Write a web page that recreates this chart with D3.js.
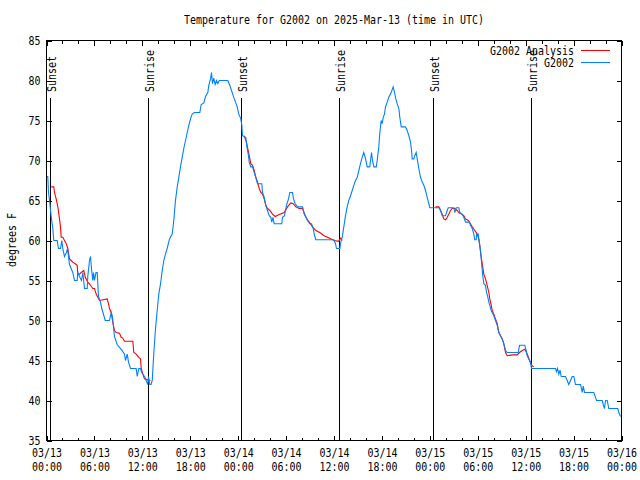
<!DOCTYPE html>
<html><head><meta charset="utf-8">
<script src="https://cdn.jsdelivr.net/npm/d3@7"></script>
<style>body{margin:0;background:#fff}svg{display:block}</style>
</head><body>
<script>
// ---- data (hours since 2025-03-13 00:00 UTC, temperature in F) ----
const blueHours = [0.06,0.16,0.25,0.38,0.59,0.79,0.91,1.34,1.50,1.75,
1.92,2.04,2.25,2.50,2.63,2.75,2.88,3.29,3.51,3.84,
3.92,4.13,4.38,4.55,4.76,5.10,5.17,5.38,5.51,5.63,
5.80,5.89,6.01,6.20,6.35,6.51,6.76,6.92,7.07,7.35,
7.89,8.10,8.26,8.43,8.51,8.85,9.43,9.77,9.89,10.11,
10.27,10.52,11.23,11.36,11.56,11.77,11.93,12.27,12.48,12.68,
12.77,12.94,13.09,13.24,13.44,13.65,13.86,14.06,14.28,14.49,
14.69,14.90,15.11,15.40,15.74,15.94,16.15,16.37,16.57,16.78,
16.99,17.19,17.41,17.62,17.82,18.03,18.24,18.53,19.20,19.37,
19.70,19.91,20.20,20.32,20.54,20.66,20.79,20.95,21.12,21.29,
21.45,21.63,22.70,22.95,23.25,23.45,23.70,23.88,24.08,24.33,
24.46,24.54,24.96,25.04,25.17,25.29,25.38,25.58,25.80,26.01,
26.21,26.42,26.96,27.05,27.26,27.46,27.67,27.89,28.09,28.21,
28.36,28.51,29.46,29.55,29.80,30.05,30.30,30.47,30.80,30.93,
31.14,31.43,32.06,32.27,32.47,32.68,32.97,33.18,33.40,33.52,
33.72,35.98,36.19,36.31,36.73,36.85,37.03,37.23,37.44,37.65,
37.85,38.07,38.28,38.48,38.69,38.91,39.11,39.32,39.53,39.73,
39.95,40.16,40.48,40.57,40.70,40.82,40.99,41.29,41.41,41.61,
41.74,41.91,42.04,42.16,42.32,42.45,42.66,42.86,43.16,43.41,
43.58,43.74,43.91,44.12,44.24,44.42,44.95,45.17,45.37,45.58,
45.71,45.79,45.99,46.12,46.29,46.42,46.62,46.83,47.05,47.25,
47.46,47.67,47.87,48.00,49.21,49.34,49.55,49.96,50.18,50.30,
51.00,51.13,51.30,51.63,51.75,52.05,52.25,52.47,52.97,53.09,
53.31,53.51,53.63,53.81,53.85,54.06,54.13,54.35,54.47,54.63,
54.76,54.97,55.10,55.22,55.39,55.51,55.69,55.81,56.01,56.22,
56.44,56.64,56.85,57.06,57.26,57.48,57.69,59.07,59.23,59.89,
60.07,60.19,60.39,60.61,60.73,63.74,63.86,63.99,64.15,64.30,
64.45,64.99,65.20,65.40,65.62,65.83,66.03,66.24,66.87,66.99,
67.08,67.21,67.37,68.53,68.75,68.87,69.59,69.71,69.87,70.00,
70.21,70.41,71.54,71.66,71.88];
const blueTemps = [68,68,66,65,63,61.5,60,60,59,59,
60,59,58,58.5,59,58,57,56,55,55,
56,55.5,55,56,54,54,55.5,57.5,58,56.5,
55,56,55,56,56,53,52.3,51.5,51,50,
50,51,50.5,48.8,48,47,46.3,45.8,45,45.8,
44.8,44,44,43,44,44,43.5,43,42.5,42,
43,42,42,42.5,46,49,51.25,53.3,54.6,56.25,
57.5,58.3,59,60.2,60.8,62.5,65,66.7,67.9,69.2,
70.4,71.5,72.5,73.5,74.4,75.2,75.8,76,76,77,
77.2,78,78.5,79.4,80.2,81,79.6,80.3,79.5,80,
79.6,80,80,79.4,78.5,77.9,77.2,76.7,75.8,75.2,
74.4,73.1,72.9,72.1,71.25,70.6,69.8,69.2,69.2,68.5,
67.9,67.1,67.1,66,65.4,64.4,63.75,63.1,62.9,62.3,
62.9,62.1,62.1,62.9,63.1,64.4,65.2,66,66,65.2,
64.6,64.2,64.2,63.3,62.9,62.5,62.1,62.1,61.5,60.8,
60.1,60.1,59.6,59,59,59.8,60.4,61.7,63.1,64.2,
65,65.6,66.25,66.9,67.5,67.9,68.75,69.6,70.4,71,
70.2,69.2,69.2,70,71,70,69.2,69.2,70,71.7,
73.5,75,74.6,75.4,75.8,76.7,77.3,77.9,78.5,79.2,
78.5,77.7,77.1,76.5,75.4,74.2,74.2,73.75,73.1,72.3,
71.25,70.2,70.2,70.6,71,70.2,69,67.9,67.3,66.9,
66.25,65.4,64.6,64.1,64.1,63.75,63.1,63.1,63.75,64.1,
64.1,63.5,64.1,64.1,63.5,63.3,62.9,62.3,62.3,61.9,
61.5,60.8,60.1,60.1,60.8,60.8,60.2,58.75,57.3,55.6,
54.6,54.4,53.5,53.1,52.3,51.9,51.25,51,50.6,50,
49.4,48.5,48.1,47.7,47.1,46.25,46,46,46.9,46.9,
46.25,45.6,45.2,44.8,44,44,43.6,44,43.3,43.8,
43,43,42.5,42,42.5,43,43,42,42,41.5,
41,41.8,41,41,40.4,40,40,39.5,39,40,
40,39,39,38.5,38];

const analysisNight1Hours = [0.59,0.91,1.00,1.21,1.42,1.63,1.75,1.84,2.04,2.25,
2.47,2.67,2.88,3.09,3.29,3.59,3.84,3.92,4.13,4.35,
4.67,4.85,5.17,5.51,5.80,6.01,6.22,6.42,6.64,7.60,
7.76,7.89,8.10,8.30,8.51,8.73,9.14,9.35,9.55,9.77,
10.81,10.93,11.23,11.56,11.77,11.86,12.06,12.27,12.68,13.02];
const analysisNight1Temps = [66.7,66.7,66,65.2,64.2,62.7,61.7,60.4,60.4,60,
59.6,59,57.7,57.5,57.3,57.1,56.9,55.8,55.8,56,
56.25,55.4,54.8,54.4,54,54,53.3,52.9,52.5,52.7,
52.1,51.5,51,49.8,48.75,48.5,48.4,47.9,47.8,47.4,
47.4,46,45.8,45.4,45.2,44,43.3,42.7,42.6,42.5];

const analysisNight2Hours = [24.76,25.04,25.38,25.58,25.80,26.01,26.21,26.42,26.64,26.84,
27.05,27.26,27.46,27.67,27.96,28.30,28.64,29.14,29.77,30.18,
30.59,30.89,31.22,31.64,32.06,32.40,32.68,32.97,33.31,33.72,
34.22,34.77,35.40,36.02,36.56,36.85,37.03];
const analysisNight2Temps = [73.1,72.3,70.6,69.6,69.4,68.75,67.9,67.3,66.5,66,
65.8,65.2,64.4,64,63.75,63.3,63,63.25,63.5,64.2,
64.7,64.6,64.2,64,64,63.1,62.6,62.2,61.7,61.25,
61,60.6,60.3,60,59.9,60.3,60];

const analysisNight3Hours = [48.71,49.12,49.34,49.55,49.75,49.96,50.18,50.38,50.59,50.80,
51.13,51.43,51.63,51.97,52.25,52.47,52.81,53.09,53.31,53.63,
53.93,54.13,54.25,54.35,54.47,54.56,54.76,54.97,55.18,55.39,
55.51,55.69,55.81,56.01,56.22,56.44,56.64,56.85,57.06,57.26,
57.48,57.69,58.39,58.94,59.23,59.57,59.89,60.10,60.31,60.48,
60.73,61.02];
const analysisNight3Temps = [64.2,64.2,63.75,63.3,62.7,62.6,62.9,63.3,63.75,64,
64,63.75,63.5,63.3,63.1,62.7,62.5,62.1,61.7,61.25,
60.8,60.2,59.4,58.5,57.7,57.1,55.8,55.2,54.4,53.5,
52.7,51.9,51.25,50.8,50.2,49.6,48.5,48.1,47.7,47.1,
46,45.6,45.7,45.7,46,46.25,46.4,46,45.5,45,
44.4,44.2];

const sunEventHours = [0.41,12.69,24.33,36.61,48.38,60.65];
const sunEventLabels = ["Sunset","Sunrise","Sunset","Sunrise","Sunset","Sunrise"];

const majorTickHours = [0,6,12,18,24,30,36,42,48,54,60,66,72];
const tickDates = ["03/13","03/13","03/13","03/13","03/14","03/14","03/14","03/14","03/15","03/15","03/15","03/15","03/16"];
const tickTimes = ["00:00","06:00","12:00","18:00","00:00","06:00","12:00","18:00","00:00","06:00","12:00","18:00","00:00"];
const minorTickHours = d3.range(0,73,2).filter(h => h % 6 !== 0);
const yTickValues = [35,40,45,50,55,60,65,70,75,80,85];

const titleText = "Temperature for G2002 on 2025-Mar-13 (time in UTC)";
const yLabelText = "degrees F";
const seriesNames = ["G2002 Analysis","G2002"];
const seriesColors = ["#ff0000","#0080ff"];

// ---- drawing ----
const W = 640, H = 480;
const FONT = "'DejaVu Sans Mono', 'Liberation Mono', monospace";
const CH = 6; // char advance

const svg = d3.select("body").append("svg").attr("width", W).attr("height", H);
svg.append("rect").attr("width", W).attr("height", H).attr("fill", "#fff");

const x = d3.scaleLinear().domain([0, 72]).range([46.5, 621.5]);
const y = d3.scaleLinear().domain([35, 85]).range([440.5, 40.5]);

function fitText(sel) {
  sel.attr("font-family", FONT).attr("font-size", 12).attr("fill", "#000")
    .each(function () {
      const t = d3.select(this).text();
      if (t && t.length) d3.select(this).attr("textLength", t.length * CH).attr("lengthAdjust", "spacingAndGlyphs");
    });
}
function cleanAxis(g) {
  g.select(".domain").remove();
  g.selectAll("line").attr("stroke", "#000").attr("shape-rendering", "crispEdges");
}

// bottom axis (major with labels)
const gb = svg.append("g").attr("transform", `translate(0,${y(35)})`)
  .call(d3.axisBottom(x).tickValues(majorTickHours).tickSize(-5).tickSizeOuter(0).tickPadding(8)
    .tickFormat((d, i) => tickDates[i]));
cleanAxis(gb);
gb.selectAll(".tick text").call(fitText);
gb.selectAll(".tick").append("text")
  .attr("y", 8).attr("dy", "1.88em").attr("text-anchor", "middle")
  .text((d, i) => tickTimes[i]).call(fitText);
// bottom minor
const gbm = svg.append("g").attr("transform", `translate(0,${y(35)})`)
  .call(d3.axisBottom(x).tickValues(minorTickHours).tickSize(-3).tickSizeOuter(0).tickFormat(""));
cleanAxis(gbm);
// top axis
const gt = svg.append("g").attr("transform", `translate(0,${y(85)})`)
  .call(d3.axisTop(x).tickValues(majorTickHours).tickSize(-5).tickSizeOuter(0).tickFormat(""));
cleanAxis(gt);
const gtm = svg.append("g").attr("transform", `translate(0,${y(85)})`)
  .call(d3.axisTop(x).tickValues(minorTickHours).tickSize(-3).tickSizeOuter(0).tickFormat(""));
cleanAxis(gtm);
// left axis
const gl = svg.append("g").attr("transform", `translate(${x(0)},0)`)
  .call(d3.axisLeft(y).tickValues(yTickValues).tickSize(-5).tickSizeOuter(0).tickPadding(6).tickFormat(d3.format("d")));
cleanAxis(gl);
gl.selectAll(".tick text").call(fitText);
// right axis
const gr = svg.append("g").attr("transform", `translate(${x(72)},0)`)
  .call(d3.axisRight(y).tickValues(yTickValues).tickSize(-5).tickSizeOuter(0).tickFormat(""));
cleanAxis(gr);

// frame
svg.append("rect").attr("x", x(0)).attr("y", y(85)).attr("width", x(72) - x(0)).attr("height", y(35) - y(85))
  .attr("fill", "none").attr("stroke", "#000").attr("shape-rendering", "crispEdges");

// sunrise/sunset markers
const sun = svg.append("g");
sunEventHours.forEach((h, i) => {
  const xx = Math.round(x(h)) + 0.5;
  sun.append("line").attr("x1", xx).attr("x2", xx).attr("y1", 98).attr("y2", y(35))
    .attr("stroke", "#000").attr("shape-rendering", "crispEdges");
  sun.append("text").attr("transform", `translate(${xx + 5},92) rotate(-90)`)
    .attr("text-anchor", "start").text(sunEventLabels[i]).call(fitText);
});

// lines
const line = d3.line().x(d => x(d[0])).y(d => y(d[1]));
[[analysisNight1Hours, analysisNight1Temps], [analysisNight2Hours, analysisNight2Temps], [analysisNight3Hours, analysisNight3Temps]]
  .forEach(([hs, ts]) => {
    svg.append("path").datum(d3.zip(hs, ts)).attr("d", line)
      .attr("fill", "none").attr("stroke", seriesColors[0]).attr("stroke-width", 1.1);
  });
svg.append("path").datum(d3.zip(blueHours, blueTemps)).attr("d", line)
  .attr("fill", "none").attr("stroke", seriesColors[1]).attr("stroke-width", 1.1);

// title
svg.append("text").attr("x", 334).attr("y", 24).attr("text-anchor", "middle").text(titleText).call(fitText);
// y label
svg.append("text").attr("transform", "translate(16,240) rotate(-90)").attr("text-anchor", "middle").text(yLabelText).call(fitText);

// legend
seriesNames.forEach((name, i) => {
  const yy = 50.5 + i * 12;
  svg.append("text").attr("x", 574).attr("y", yy + 4).attr("text-anchor", "end").text(name).call(fitText);
  svg.append("line").attr("x1", 581).attr("x2", 610).attr("y1", yy).attr("y2", yy)
    .attr("stroke", seriesColors[i]).attr("shape-rendering", "crispEdges");
});
</script>
</body></html>
